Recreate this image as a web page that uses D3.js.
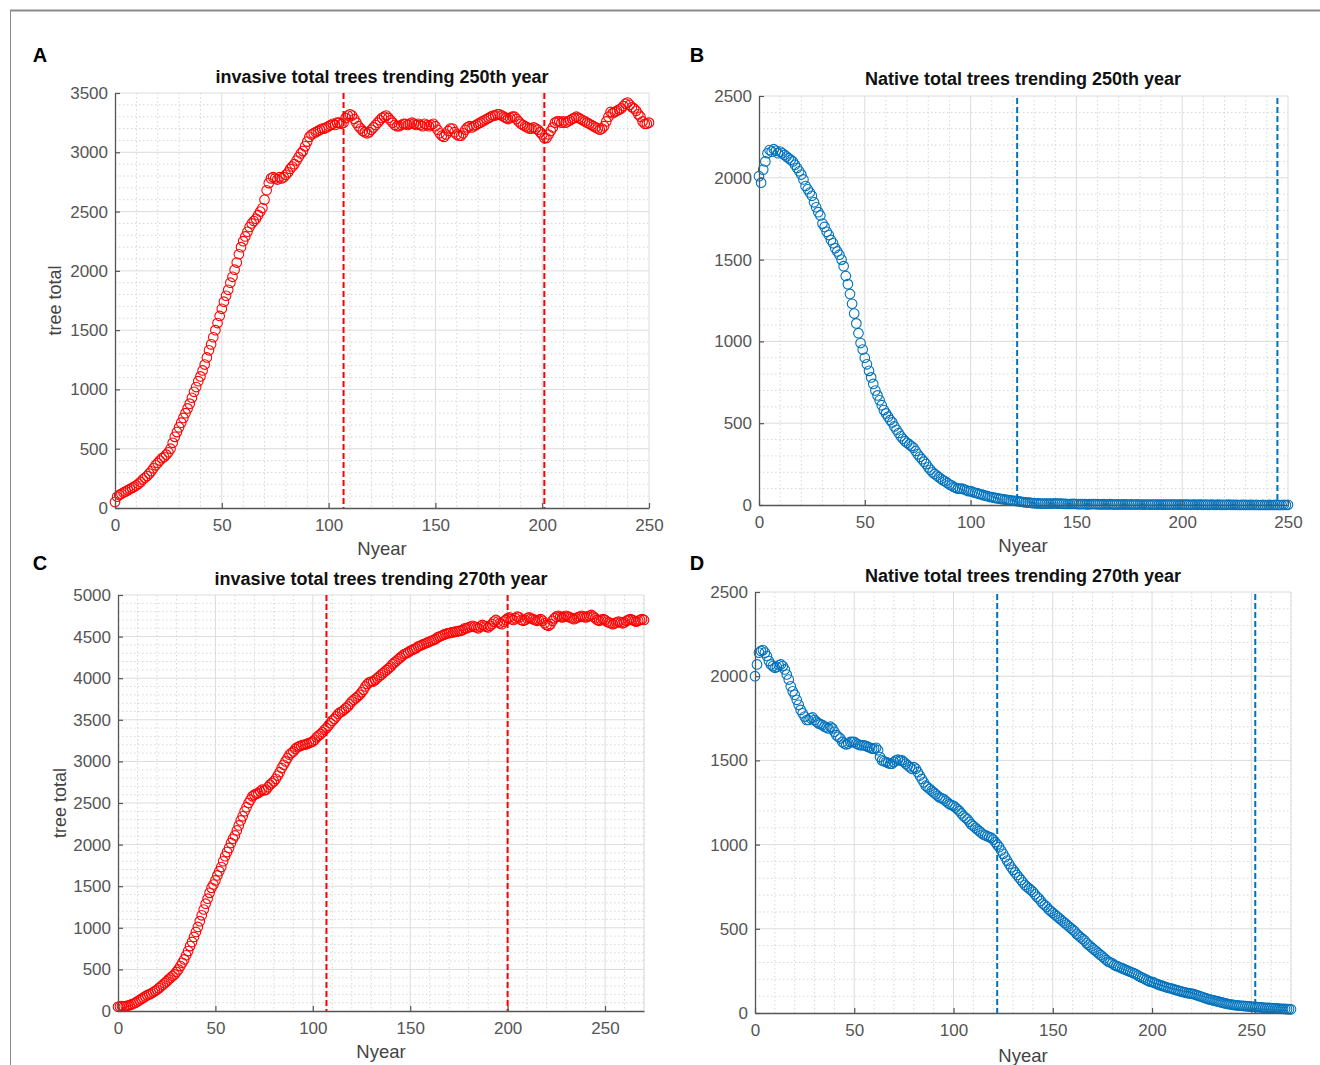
<!DOCTYPE html>
<html><head><meta charset="utf-8">
<script src="https://cdn.jsdelivr.net/npm/d3@7"></script>
<style>
html,body{margin:0;padding:0;background:#fff;}
svg{display:block;font-family:"Liberation Sans",Arial,Helvetica,sans-serif;}
</style></head>
<body>
<svg id="chart" width="1320" height="1065"></svg>
<script>
// ---- Data ----
const invasive250 = [
50,95,110,120,130,140,150,160,170,180,
190,205,220,240,255,270,290,310,335,360,
380,400,420,430,450,470,500,550,600,640,
680,720,760,800,840,880,930,980,1020,1070,
1110,1160,1210,1270,1330,1380,1440,1500,1560,1620,
1680,1740,1790,1840,1900,1950,2010,2070,2140,2200,
2250,2290,2330,2370,2400,2420,2440,2470,2500,2530,
2600,2680,2740,2780,2790,2780,2770,2790,2780,2790,
2810,2830,2860,2880,2900,2930,2960,2990,3010,3050,
3090,3130,3150,3160,3170,3180,3190,3200,3200,3210,
3220,3230,3240,3230,3250,3250,3240,3250,3290,3310,
3320,3310,3280,3250,3220,3200,3180,3170,3160,3170,
3190,3210,3230,3250,3270,3290,3300,3310,3290,3270,
3250,3230,3220,3220,3230,3240,3240,3230,3240,3250,
3240,3230,3240,3230,3220,3240,3230,3220,3230,3240,
3220,3190,3160,3140,3130,3150,3180,3200,3200,3170,
3150,3140,3140,3160,3190,3210,3220,3210,3220,3230,
3240,3250,3260,3270,3280,3290,3300,3310,3310,3320,
3320,3310,3300,3290,3280,3290,3300,3300,3280,3260,
3240,3230,3220,3210,3200,3200,3210,3200,3190,3170,
3150,3120,3120,3150,3180,3210,3250,3260,3260,3250,
3260,3250,3260,3270,3280,3290,3300,3290,3280,3270,
3260,3250,3240,3230,3220,3210,3200,3190,3200,3220,
3260,3300,3340,3330,3340,3350,3360,3370,3390,3410,
3420,3400,3380,3370,3350,3320,3300,3260,3240,3240,
3250];
const native250 = [
2010,1970,2050,2100,2150,2170,2160,2175,2165,2150,
2160,2150,2140,2130,2120,2110,2100,2080,2060,2040,
2020,1990,1950,1930,1910,1890,1850,1820,1790,1770,
1720,1700,1670,1650,1620,1600,1570,1550,1530,1500,
1460,1400,1350,1290,1230,1170,1110,1050,990,950,
900,860,820,780,740,700,670,640,610,580,
560,540,520,505,480,460,440,420,405,390,
380,370,360,350,330,310,295,280,265,250,
230,215,200,190,180,170,160,150,145,135,
125,120,110,105,100,100,100,95,90,85,
85,80,75,72,68,65,60,57,54,50,
48,45,42,40,38,36,34,32,30,28,
26,25,24,22,20,18,16,15,14,12,
11,10,10,9,9,8,8,8,9,9,
10,9,8,8,7,7,6,6,7,7,
6,5,5,6,5,4,5,5,6,5,
5,4,4,5,4,4,5,4,3,4,
4,3,4,4,3,3,4,3,3,4,
3,3,2,3,3,2,3,3,2,2,
3,2,2,3,2,2,2,3,2,2,
2,3,2,2,1,2,2,1,2,2,
1,2,1,1,2,1,1,2,1,1,
1,1,2,1,1,1,1,0,1,1,
1,0,1,1,0,1,0,0,1,0,
0,1,0,0,1,0,0,0,1,0,
1];
const invasive270 = [
50,55,60,55,60,65,70,80,90,100,
115,130,145,160,175,190,200,210,225,240,
255,275,295,315,335,355,380,400,420,440,
470,500,540,580,620,670,720,780,830,890,
950,1010,1080,1150,1220,1290,1350,1420,1480,1520,
1570,1630,1680,1730,1800,1860,1910,1960,2020,2070,
2110,2170,2230,2290,2340,2400,2450,2500,2540,2580,
2600,2610,2620,2640,2660,2650,2660,2690,2720,2740,
2760,2790,2830,2870,2920,2960,3000,3040,3080,3100,
3120,3150,3170,3180,3190,3200,3200,3210,3220,3230,
3240,3260,3290,3310,3330,3350,3380,3400,3430,3460,
3490,3510,3540,3570,3590,3600,3620,3640,3660,3690,
3720,3740,3760,3780,3800,3830,3860,3900,3930,3950,
3960,3960,3980,4000,4020,4040,4060,4080,4100,4120,
4140,4170,4190,4210,4230,4250,4270,4290,4300,4310,
4330,4340,4350,4360,4380,4390,4400,4410,4420,4430,
4440,4450,4460,4470,4490,4500,4510,4520,4530,4540,
4540,4550,4550,4560,4560,4570,4570,4580,4600,4600,
4610,4620,4630,4620,4610,4600,4620,4640,4630,4620,
4610,4630,4650,4680,4700,4680,4660,4650,4680,4700,
4720,4730,4710,4700,4720,4740,4730,4700,4690,4700,
4720,4730,4720,4710,4700,4690,4700,4710,4690,4660,
4640,4630,4650,4690,4720,4740,4750,4740,4730,4740,
4750,4740,4730,4720,4710,4720,4730,4740,4750,4740,
4730,4740,4750,4760,4740,4720,4700,4690,4700,4710,
4700,4680,4670,4660,4650,4660,4670,4680,4670,4660,
4670,4690,4700,4710,4700,4690,4680,4690,4700,4710,4700];
const native270 = [
2000,2070,2140,2150,2155,2140,2120,2090,2070,2060,
2050,2055,2065,2070,2060,2040,2010,1980,1940,1910,
1890,1860,1830,1800,1780,1760,1740,1740,1750,1755,
1740,1730,1720,1715,1710,1700,1695,1690,1700,1690,
1670,1650,1640,1630,1610,1600,1595,1600,1610,1610,
1610,1600,1595,1590,1590,1590,1585,1580,1575,1570,
1570,1575,1560,1520,1500,1495,1490,1485,1480,1480,
1490,1500,1505,1500,1500,1490,1480,1470,1460,1450,
1460,1450,1430,1410,1390,1370,1350,1340,1330,1320,
1310,1300,1290,1280,1275,1270,1260,1250,1240,1235,
1230,1220,1210,1200,1185,1170,1160,1150,1135,1120,
1110,1100,1090,1080,1070,1060,1055,1050,1045,1040,
1030,1015,1000,985,965,945,925,905,885,865,
850,835,820,805,790,775,760,750,740,730,
720,705,690,680,665,650,640,630,615,605,
595,585,575,565,555,545,535,525,515,505,
495,485,470,460,450,440,430,415,405,395,
385,375,365,355,345,335,325,315,305,300,
295,285,280,275,270,265,260,255,250,245,
240,235,230,222,215,210,205,198,192,186,
185,180,175,170,165,162,158,154,150,147,
145,140,137,134,130,127,124,121,118,116,
115,112,108,104,100,96,92,88,84,80,
78,75,72,69,66,63,60,57,54,52,
50,48,46,45,44,43,42,41,40,39,
38,37,36,35,34,33,32,31,30,30,
29,28,27,27,26,25,25,24,23,23,22];

const titles = ["invasive total trees trending 250th year","Native total trees trending 250th year",
                "invasive total trees trending 270th year","Native total trees trending 270th year"];
const panelLetters = ["A","B","C","D"];
const xMax = [250,250,270,270];
const yMax = [3500,2500,5000,2500];
const markerLines = [[107,201],[122,245],[107,200],[122,252]];
const xTicks = [[0,50,100,150,200,250],[0,50,100,150,200,250],[0,50,100,150,200,250],[0,50,100,150,200,250]];
const xLabel = "Nyear";
const yLabel = "tree total";
const series = [invasive250, native250, invasive270, native270];

// ---- Layout ----
const RED = "#ff0000", BLUE = "#0072BD";
const panels = [
  {l:115,r:649,t:93,b:508,color:RED, ylab:true, lx:40,ly:55, tx:382,ty:83, nx:382,ny:555, yx:55},
  {l:759,r:1288,t:96,b:505,color:BLUE,ylab:false,lx:697,ly:55, tx:1023,ty:85, nx:1023,ny:552},
  {l:118,r:644,t:595,b:1011,color:RED, ylab:true, lx:40,ly:563, tx:381,ty:585, nx:381,ny:1058, yx:60},
  {l:755,r:1291,t:592,b:1013,color:BLUE,ylab:false,lx:697,ly:563, tx:1023,ty:582, nx:1023,ny:1062}
];

const svg = d3.select("#chart");
// outer frame
svg.append("line").attr("x1",10).attr("x2",1320).attr("y1",10.5).attr("y2",10.5).attr("stroke","#8a8a8a").attr("stroke-width",2);
svg.append("line").attr("x1",10.5).attr("x2",10.5).attr("y1",10).attr("y2",1065).attr("stroke","#8a8a8a").attr("stroke-width",1);

panels.forEach((p,i)=>{
  const x = d3.scaleLinear().domain([0,xMax[i]]).range([p.l,p.r]);
  const y = d3.scaleLinear().domain([0,yMax[i]]).range([p.b,p.t]);
  const g = svg.append("g");

  // minor grid
  const xMinor = d3.range(10, xMax[i]+0.1, 10).filter(v=>v%50!==0);
  const yMinor = d3.range(100, yMax[i]+0.1, 100).filter(v=>v%500!==0);
  g.selectAll(null).data(xMinor).join("line")
    .attr("x1",d=>x(d)).attr("x2",d=>x(d)).attr("y1",p.t).attr("y2",p.b)
    .attr("stroke","#d6d6d6").attr("stroke-width",1).attr("stroke-dasharray","1.5,2.5");
  g.selectAll(null).data(yMinor).join("line")
    .attr("y1",d=>y(d)).attr("y2",d=>y(d)).attr("x1",p.l).attr("x2",p.r)
    .attr("stroke","#d6d6d6").attr("stroke-width",1).attr("stroke-dasharray","1.5,2.5");
  // major grid
  const xMajor = d3.range(50, xMax[i]+0.1, 50).concat(xMax[i]%50? [xMax[i]]:[]);
  const yMajor = d3.range(500, yMax[i]+0.1, 500);
  g.selectAll(null).data(xMajor).join("line")
    .attr("x1",d=>x(d)).attr("x2",d=>x(d)).attr("y1",p.t).attr("y2",p.b)
    .attr("stroke","#dcdcdc").attr("stroke-width",1);
  g.selectAll(null).data(yMajor).join("line")
    .attr("y1",d=>y(d)).attr("y2",d=>y(d)).attr("x1",p.l).attr("x2",p.r)
    .attr("stroke","#dcdcdc").attr("stroke-width",1);

  // data markers
  const data = series[i].map((v,k)=>({yr:k, v}));
  g.selectAll(null).data(data).join("circle")
    .attr("cx",d=>x(d.yr)).attr("cy",d=>y(d.v)).attr("r",4.8)
    .attr("fill","none").attr("stroke",p.color).attr("stroke-width",1.1);

  // dashed vertical lines
  g.selectAll(null).data(markerLines[i]).join("line")
    .attr("x1",d=>x(d)).attr("x2",d=>x(d)).attr("y1",p.t + (p.color===BLUE?2:0)).attr("y2",p.b)
    .attr("stroke",p.color).attr("stroke-width",2).attr("stroke-dasharray","6,3");

  // axes
  const ax = d3.axisBottom(x).tickValues(xTicks[i]).tickSizeInner(-5).tickSizeOuter(0).tickPadding(8);
  const ay = d3.axisLeft(y).tickValues(d3.range(0,yMax[i]+1,500)).tickSizeInner(-5).tickSizeOuter(0).tickPadding(7).tickFormat(d3.format("d"));
  const gx = g.append("g").attr("transform",`translate(0,${p.b})`).call(ax);
  const gy = g.append("g").attr("transform",`translate(${p.l},0)`).call(ay);
  [gx,gy].forEach(a=>{
    a.select(".domain").attr("stroke","#555").attr("stroke-width",1.3);
    a.selectAll(".tick line").attr("stroke","#555").attr("stroke-width",1.2);
    a.selectAll(".tick text").attr("fill","#555").attr("font-size",17)
      .attr("font-family","'Liberation Sans',Arial,sans-serif");
  });
  gx.selectAll(".tick text").attr("dy","0.9em");

  // titles and labels
  svg.append("text").attr("x",p.tx).attr("y",p.ty).attr("text-anchor","middle")
    .attr("font-size",18).attr("font-weight","bold").attr("fill","#111").text(titles[i]);
  svg.append("text").attr("x",p.nx).attr("y",p.ny).attr("text-anchor","middle")
    .attr("font-size",18.5).attr("fill","#444").text(xLabel);
  if(p.ylab){
    svg.append("text").attr("transform",`translate(${p.yx},${(p.t+p.b)/2}) rotate(-90)`)
      .attr("text-anchor","middle").attr("dy","0.35em")
      .attr("font-size",18).attr("fill","#444").text(yLabel);
  }
  svg.append("text").attr("x",p.lx).attr("y",p.ly).attr("text-anchor","middle").attr("dy","0.36em")
    .attr("font-size",20).attr("font-weight","bold").attr("fill","#000").text(panelLetters[i]);
});
</script>
</body></html>
